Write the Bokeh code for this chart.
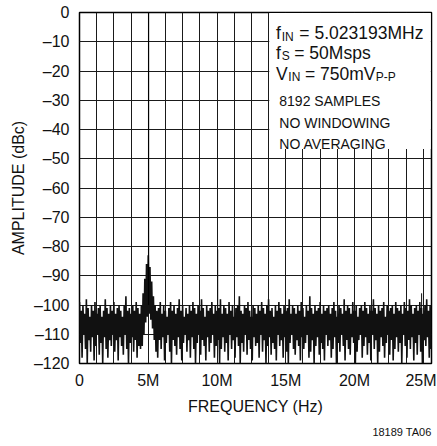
import numpy as np
from bokeh.plotting import figure
from bokeh.models import Range1d, FixedTicker, BoxAnnotation, Label, Title
from bokeh.embed import file_html
from bokeh.resources import INLINE

FONT = "Liberation Sans"

# ---------------- data ----------------
bin_step_mhz = 0.125  # FFT display bin spacing used for the noise trace

noise_hi = [
    -99, -102, -100, -103, -98, -101, -104, -100, -102, -99, -103, -101, -100, -104, -102, -98, -101, -103, -100, -102,
    -99, -103, -101, -100, -102, -104, -100, -97, -102, -101, -103, -100, -102, -99, -101, -103,
    -100, -96, -91, -86, -83, -87, -92, -97, -100,
    -102, -101, -99, -103, -100, -102, -104, -101, -99, -102, -100, -103, -101, -98, -102, -100, -104, -101, -103, -100,
    -102, -99, -101, -103, -100, -102, -98, -101, -104, -100, -102, -101, -99, -103, -100, -102, -101, -98, -103, -100,
    -101, -103, -99, -102, -100, -104, -101, -100, -97, -102, -103, -100, -101, -99, -102, -104, -100, -101, -103, -100,
    -102, -99, -101, -103, -100, -98, -102, -101, -104, -100, -102, -99, -101, -103, -100, -102, -101, -98, -103, -100,
    -101, -103, -100, -102, -99, -101, -104, -100, -102, -97, -101, -103, -100, -102, -101, -99, -103, -100, -102, -101,
    -100, -103, -101, -99, -102, -104, -100, -101, -103, -98, -102, -100, -101, -103, -99, -102, -100, -104, -101, -100,
    -102, -99, -101, -103, -100, -102, -98, -101, -103, -100, -102, -101, -99, -104, -100, -102, -101, -100, -103, -99,
    -101, -102, -100, -103, -99, -101, -102, -98, -100, -103, -101, -100, -102, -99, -101, -103, -100, -98, -102, -100,
]
noise_lo = [
    -113, -118, -110, -115, -120, -112, -116, -111, -119, -114, -110, -117, -113, -120, -111, -115, -118, -112, -114, -110,
    -116, -112, -119, -111, -114, -117, -110, -115, -120, -113, -111, -116, -112, -118, -114, -115,
    -114, -110, -106, -104, -103, -105, -108, -112, -116,
    -118, -112, -115, -111, -119, -113, -110, -116, -120, -112, -114, -117, -111, -115, -119, -113, -110, -116, -112, -118,
    -111, -115, -120, -113, -110, -117, -112, -114, -119, -111, -116, -113, -110, -118, -114, -112, -120, -115, -111, -116,
    -113, -119, -110, -115, -112, -118, -111, -114, -120, -113, -116, -110, -117, -112, -115, -119, -111, -114, -113, -118,
    -110, -116, -112, -120, -114, -111, -117, -113, -115, -119, -110, -114, -112, -118, -111, -116, -120, -113, -110, -115,
    -117, -112, -114, -119, -111, -115, -113, -110, -118, -116, -112, -120, -114, -111, -117, -113, -115, -119, -110, -114,
    -112, -118, -115, -111, -120, -113, -116, -110, -114, -119, -112, -115, -117, -111, -113, -120, -116, -112, -110, -118,
    -114, -111, -117, -113, -119, -110, -115, -112, -120, -116, -111, -114, -118, -113, -110, -117, -112, -119, -115, -111,
    -116, -113, -120, -110, -114, -118, -112, -115, -111, -119, -113, -117, -110, -116, -120, -112, -114, -111, -118, -115,
]

fund_freq_mhz = 5.023193
fund_db = 0
spur_freq_mhz = [10.05, 24.88]
spur_db = [-81, -96]

x_ticks = [0, 5, 10, 15, 20, 25]
x_tick_labels = ["0", "5M", "10M", "15M", "20M", "25M"]
y_ticks = [0, -10, -20, -30, -40, -50, -60, -70, -80, -90, -100, -110, -120]
y_tick_labels = ["0", "\u201310", "\u201320", "\u201330", "\u201340", "\u201350", "\u201360",
                 "\u201370", "\u201380", "\u201390", "\u2013100", "\u2013110", "\u2013120"]
x_grid_step_mhz = 1.25

# ---------------- figure ----------------
p = figure(frame_width=352, frame_height=351,
           min_border_left=79, min_border_right=5, min_border_top=12, min_border_bottom=80,
           x_range=Range1d(0, 25.6), y_range=Range1d(-120, 0),
           output_backend="svg", toolbar_location=None,
           background_fill_color="white", border_fill_color="white")

p.outline_line_color = "black"
p.outline_line_width = 1.5
p.outline_line_alpha = 1

# grids
p.xgrid.ticker = FixedTicker(ticks=list(np.arange(0, 25.0001, x_grid_step_mhz)))
p.ygrid.ticker = FixedTicker(ticks=y_ticks)
for g in (p.xgrid, p.ygrid):
    g.grid_line_color = "#1a1a1a"
    g.grid_line_width = 1
    g.grid_line_alpha = 1

# axes
p.xaxis.ticker = FixedTicker(ticks=x_ticks)
p.xaxis.major_label_overrides = {t: s for t, s in zip(x_ticks, x_tick_labels)}
p.yaxis.ticker = FixedTicker(ticks=y_ticks)
p.yaxis.major_label_overrides = {t: s for t, s in zip(y_ticks, y_tick_labels)}
for ax in (p.xaxis, p.yaxis):
    ax.axis_line_color = None
    ax.major_tick_line_color = None
    ax.minor_tick_line_color = None
    ax.major_tick_out = 0
    ax.major_tick_in = 0
    ax.minor_tick_out = 0
    ax.minor_tick_in = 0
    ax.major_label_text_font = FONT
    ax.major_label_text_font_size = "16px"
    ax.major_label_text_color = "#111111"
    ax.axis_label_text_font = FONT
    ax.axis_label_text_font_size = "16px"
    ax.axis_label_text_font_style = "normal"
    ax.axis_label_text_color = "#111111"
p.xaxis.axis_label = "FREQUENCY (Hz)"
p.yaxis.axis_label = "AMPLITUDE (dBc)"
p.xaxis.major_label_standoff = 8
p.yaxis.major_label_standoff = 10
p.xaxis.axis_label_standoff = 6
p.yaxis.axis_label_standoff = 4

# figure code below the axis
p.add_layout(Title(text="18189 TA06", align="right", text_font=FONT, text_font_size="11px",
                   text_font_style="normal", text_color="#111111", standoff=12), "below")

# noise trace (zig-zag between upper and lower excursions of each bin)
xs, ys = [], []
for i, (h, l) in enumerate(zip(noise_hi, noise_lo)):
    f = i * bin_step_mhz
    xs += [f, f + bin_step_mhz / 2]
    ys += [h, l]
p.line(xs, ys, line_color="#111111", line_width=1.6)

# fundamental and spurs
p.segment(x0=[fund_freq_mhz], y0=[-100], x1=[fund_freq_mhz], y1=[fund_db],
          line_color="black", line_width=1.2)
p.segment(x0=spur_freq_mhz, y0=[-105] * len(spur_db), x1=spur_freq_mhz, y1=spur_db,
          line_color="#111111", line_width=1)

# white box behind the annotation text
p.add_layout(BoxAnnotation(left=13.8, right=25.55, top=-0.15, bottom=-46.7,
                           fill_color="white", fill_alpha=1, line_color=None))

def lab(x, y, text, size):
    p.add_layout(Label(x=x, y=y, text=text, text_font=FONT, text_font_size=size,
                       text_color="#111111", text_baseline="alphabetic", text_align="left"))

BIG, SUB, SMALL = "17.5px", "12px", "14px"
lab(14.29, -7.08, "f", BIG)
lab(14.71, -8.34, "IN", SUB)
lab(15.99, -7.08, "= 5.023193MHz", BIG)
lab(14.29, -13.68, "f", BIG)
lab(14.71, -14.84, "S", SUB)
lab(15.62, -13.68, "= 50Msps", BIG)
lab(14.29, -21.09, "V", BIG)
lab(15.19, -22.02, "IN", SUB)
lab(16.40, -21.09, "= 750mV", BIG)
lab(21.55, -22.02, "P-P", SUB)
lab(14.53, -30.22, "8192 SAMPLES", SMALL)
lab(14.53, -37.61, "NO WINDOWING", SMALL)
lab(14.53, -45.03, "NO AVERAGING", SMALL)

open("out.html", "w").write(file_html(p, INLINE))
